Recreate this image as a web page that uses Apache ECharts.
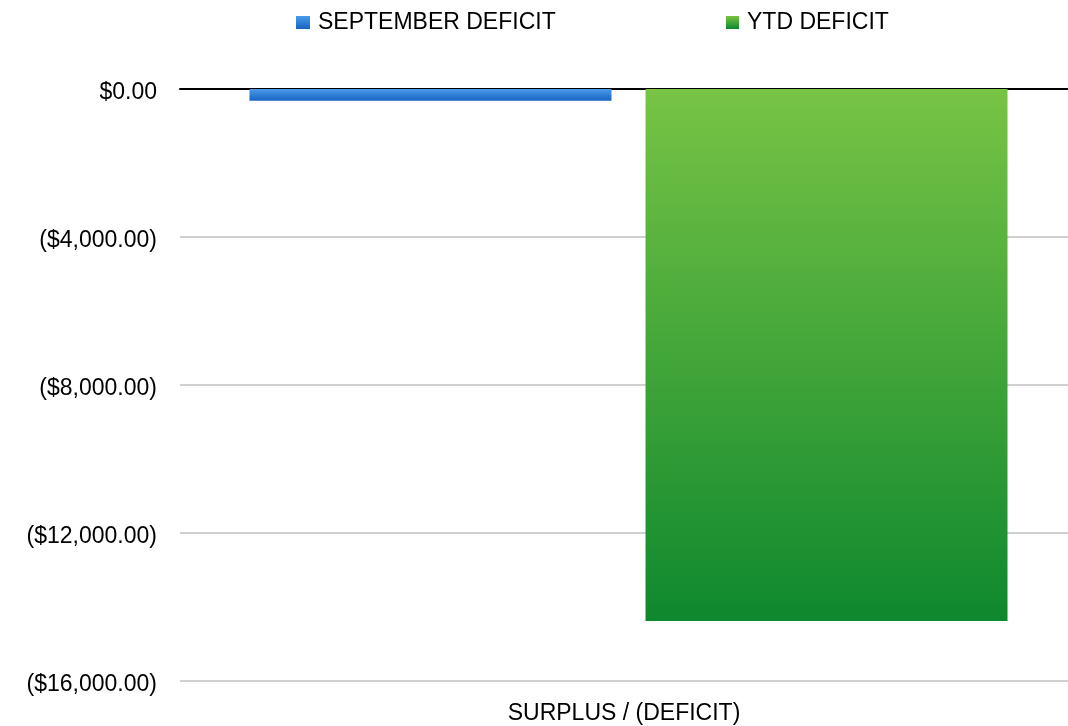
<!DOCTYPE html>
<html>
<head>
<meta charset="utf-8">
<script src="https://cdn.jsdelivr.net/npm/echarts@6/dist/echarts.min.js"></script>
<style>
html,body{margin:0;padding:0;background:#fff;}
#chart{width:1068px;height:726px;}
</style>
</head>
<body>
<div id="chart"></div>
<script>
const categories = ['SURPLUS / (DEFICIT)'];
const seriesNames = ['SEPTEMBER DEFICIT', 'YTD DEFICIT'];
const septemberDeficit = [-320];
const ytdDeficit = [-14380];
const yMin = -16000, yMax = 0, yInterval = 4000;

const FONT = '"Liberation Sans", Arial, sans-serif';
function fmt(v) {
  const s = '$' + Math.abs(v).toLocaleString('en-US', {minimumFractionDigits: 2, maximumFractionDigits: 2});
  return v < 0 ? '(' + s + ')' : s;
}
const blueGrad = new echarts.graphic.LinearGradient(0, 0, 0, 1, [
  {offset: 0, color: '#4a9cea'}, {offset: 1, color: '#1763c2'}]);
const greenGrad = new echarts.graphic.LinearGradient(0, 0, 0, 1, [
  {offset: 0, color: '#78c445'}, {offset: 1, color: '#0e882e'}]);

const chart = echarts.init(document.getElementById('chart'), null, {renderer: 'canvas'});
chart.setOption({
  animation: false,
  backgroundColor: '#ffffff',
  legend: [
    {data: [seriesNames[0]], left: 291, top: 6, itemWidth: 14, itemHeight: 13, icon: 'rect',
     textStyle: {fontFamily: FONT, fontSize: 23, color: '#000', padding: [0, 0, 0, 3]}},
    {data: [seriesNames[1]], left: 721, top: 6, itemWidth: 13, itemHeight: 13, icon: 'rect',
     textStyle: {fontFamily: FONT, fontSize: 23, color: '#000', padding: [0, 0, 0, 3]}}
  ],
  grid: [
    {left: 180, right: 0, top: 89, bottom: 45, containLabel: false},
    {left: 189, right: 0, top: 89, bottom: 45, containLabel: false}
  ],
  xAxis: [
    {gridIndex: 0, type: 'category', data: categories, position: 'bottom',
     axisLine: {show: false, onZero: false}, axisTick: {show: false},
     axisLabel: {fontFamily: FONT, fontSize: 23, color: '#000', margin: 21}},
    {gridIndex: 0, type: 'category', data: categories, position: 'top',
     axisLine: {show: true, onZero: false, lineStyle: {color: '#000', width: 2}},
     axisTick: {show: false}, axisLabel: {show: false}},
    {gridIndex: 1, type: 'category', data: categories, show: false}
  ],
  yAxis: [
    {gridIndex: 0, type: 'value', min: yMin, max: yMax, interval: yInterval,
     axisLine: {show: false}, axisTick: {show: false},
     axisLabel: {fontFamily: FONT, fontSize: 23, color: '#000', margin: 23, formatter: fmt,
                 verticalAlign: 'top', lineHeight: 7},
     splitLine: {show: true, lineStyle: {color: '#c0c0c0', width: 1.5}}},
    {gridIndex: 1, type: 'value', min: yMin, max: yMax, interval: yInterval, show: false,
     splitLine: {show: false}}
  ],
  series: [
    {name: seriesNames[0], type: 'bar', xAxisIndex: 2, yAxisIndex: 1, data: septemberDeficit,
     barWidth: 362, barGap: '9.4%', z: 1, itemStyle: {color: blueGrad}},
    {name: seriesNames[1], type: 'bar', xAxisIndex: 2, yAxisIndex: 1, data: ytdDeficit,
     barWidth: 362, z: 1, itemStyle: {color: greenGrad}}
  ]
});
</script>
</body>
</html>
